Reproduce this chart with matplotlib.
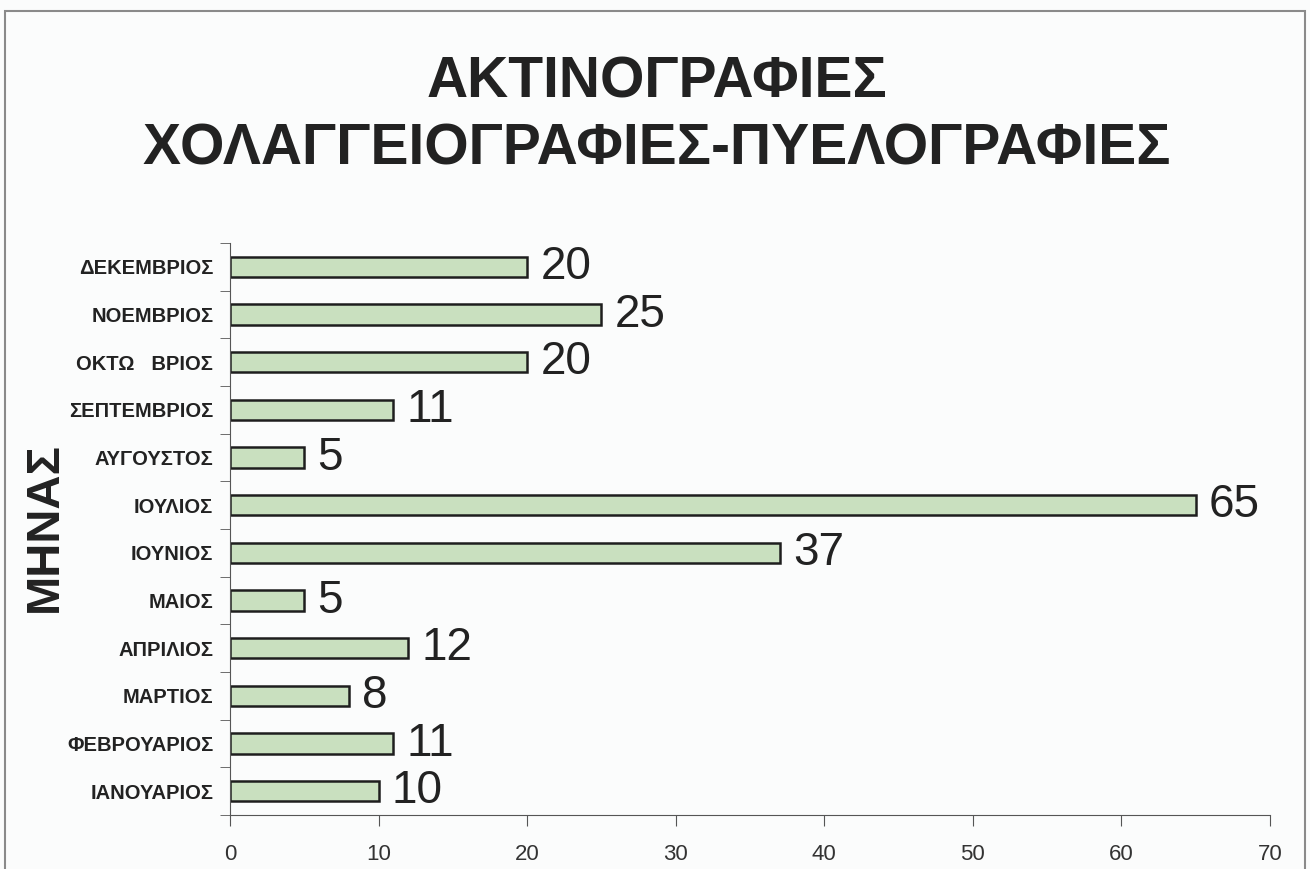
import matplotlib
matplotlib.use("Agg")
import matplotlib.pyplot as plt
from matplotlib import font_manager
from matplotlib.patches import Rectangle

# data, bottom to top
months = ["ΙΑΝΟΥΑΡΙΟΣ", "ΦΕΒΡΟΥΑΡΙΟΣ", "ΜΑΡΤΙΟΣ", "ΑΠΡΙΛΙΟΣ", "ΜΑΙΟΣ", "ΙΟΥΝΙΟΣ",
          "ΙΟΥΛΙΟΣ", "ΑΥΓΟΥΣΤΟΣ", "ΣΕΠΤΕΜΒΡΙΟΣ", "ΟΚΤΩ   ΒΡΙΟΣ", "ΝΟΕΜΒΡΙΟΣ", "ΔΕΚΕΜΒΡΙΟΣ"]
counts = [10, 11, 8, 12, 5, 37, 65, 5, 11, 20, 25, 20]
xticks = [0, 10, 20, 30, 40, 50, 60, 70]

title = "ΑΚΤΙΝΟΓΡΑΦΙΕΣ\nΧΟΛΑΓΓΕΙΟΓΡΑΦΙΕΣ-ΠΥΕΛΟΓΡΑΦΙΕΣ"
ylabel = "ΜΗΝΑΣ"

names = {f.name for f in font_manager.fontManager.ttflist}
narrow = "Liberation Sans Narrow" if "Liberation Sans Narrow" in names else "Liberation Sans"
plt.rcParams['font.family'] = ['Liberation Sans', 'DejaVu Sans']

fig = plt.figure(figsize=(13.1, 8.69), dpi=100)
fig.patch.set_facecolor("#fbfcfc")
ax = fig.add_axes([230 / 1310, 1 - 815 / 869, 1040 / 1310, (815 - 243) / 869])
ax.set_facecolor("none")

# scanned page border
fig.patches.append(Rectangle((5 / 1310, -0.05), 1300 / 1310, 1 - 11 / 869 + 0.05,
                             transform=fig.transFigure, fill=False,
                             edgecolor="#8a8a8a", linewidth=1.5))

ypos = list(range(len(months)))
ax.barh(ypos, counts, height=0.42, color="#c9e0bf", edgecolor="#1e1e1e", linewidth=1.8)
for y, v in zip(ypos, counts):
    ax.text(v + 0.9, y, str(v), va="center", ha="left", fontsize=33, color="#222222")

ax.set_xlim(0, 70)
ax.set_ylim(-0.5, len(months) - 0.5)
ax.set_xticks(xticks)
ax.set_xticklabels([str(t) for t in xticks], fontsize=16, color="#333333", family=narrow)
ax.set_yticks(ypos)
ax.set_yticklabels(months, fontsize=14.5, fontweight="bold", color="#222222")
ax.set_yticks([i - 0.5 for i in range(len(months) + 1)], minor=True)
ax.tick_params(axis="y", which="major", length=0, pad=12)
ax.tick_params(axis="y", which="minor", length=7, color="#555555", direction="out")
ax.tick_params(axis="x", length=8, color="#555555", direction="out", pad=13)

for s in ["top", "right"]:
    ax.spines[s].set_visible(False)
ax.spines["left"].set_color("#555555")
ax.spines["bottom"].set_color("#555555")

fig.text(657 / 1310, 1 - 116 / 869, title, ha="center", va="center", fontsize=41,
         fontweight="bold", family=[narrow, 'DejaVu Sans'], color="#222222", linespacing=1.3)
fig.text(45 / 1310, 1 - 527 / 869, ylabel, ha="center", va="center", rotation=90,
         fontsize=34, fontweight="bold", color="#222222")

fig.savefig("out.png", dpi=100, facecolor=fig.get_facecolor())
